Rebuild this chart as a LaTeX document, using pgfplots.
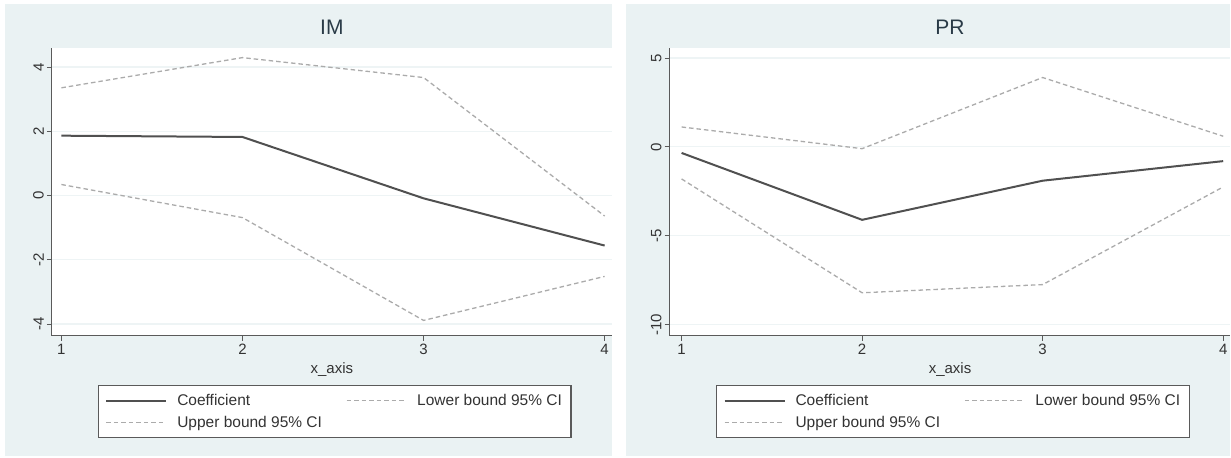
\documentclass[border=0pt]{standalone}
\usepackage{pgfplots}
\pgfplotsset{compat=1.18}
\usepackage{fontspec}
\setmainfont{Liberation Sans}
\definecolor{bgc}{HTML}{EAF2F3}
\definecolor{gridc}{HTML}{EEF4F5}
\definecolor{coefc}{HTML}{505050}
\definecolor{cic}{HTML}{ABABAB}
\definecolor{axc}{HTML}{5A5A5A}
\definecolor{txc}{HTML}{333333}
\definecolor{titc}{HTML}{2A3B47}

\pgfplotsset{
 panel/.style={
  scale only axis, width=560pt, height=288pt, anchor=south west,
  axis x line=bottom, axis y line=left,
  axis line style={-, axc, line width=1pt},
  xtick={1,2,3,4}, tick align=outside, major tick length=5pt,
  tick style={axc, line width=0.8pt},
  ymajorgrids, major grid style={gridc, line width=1.2pt},
  /pgf/number format/assume math mode=true,
  ticklabel style={font=\fontsize{15}{18}\selectfont, text=txc},
  yticklabel style={rotate=90, anchor=south, inner sep=3pt},
  xticklabel style={anchor=north, inner sep=3pt},
  xlabel={x\_axis},
  xlabel style={at={(axis description cs:0.5,-0.118)}, anchor=center, font=\fontsize{15}{18}\selectfont, text=txc},
  title style={at={(axis description cs:0.5,1.052)}, anchor=center, font=\fontsize{21}{25}\selectfont, text=titc},
  axis background/.style={fill=white},
  legend columns=2,
  legend cell align=left,
  legend style={at={(0.505,-0.17)}, anchor=north, draw=axc, line width=1.2pt,
    font=\fontsize{15.5}{18}\selectfont, text=txc, inner xsep=7pt, inner ysep=7pt,
    /tikz/every odd column/.append style={column sep=8pt},
    /tikz/every even column/.append style={column sep=22pt}, row sep=5pt},
  legend image code/.code={\draw[##1] (0pt,0pt) -- (60pt,0pt);},
 },
 coef/.style={coefc, line width=2pt, no markers},
 ci/.style={cic, line width=1.3pt, dash pattern=on 4.5pt off 3pt, no markers},
}

\begin{document}
\begin{tikzpicture}[x=1pt,y=1pt]
\fill[white] (0,0) rectangle (1231,458);
\fill[bgc] (5,2) rectangle (612,454);
\fill[bgc] (626,2) rectangle (1231,454);

\begin{axis}[panel, at={(52pt,122pt)}, title={IM},
  xmin=0.948, xmax=4.039, ymin=-4.37, ymax=4.59, ytick={-4,-2,0,2,4}]
\addplot[coef] coordinates {(1,1.86) (2,1.82) (3,-0.09) (4,-1.56)};
\addlegendentry{Coefficient}
\addplot[ci] coordinates {(1,0.34) (2,-0.69) (3,-3.89) (4,-2.52)};
\addlegendentry{Lower bound 95\% CI}
\addplot[ci] coordinates {(1,3.35) (2,4.29) (3,3.67) (4,-0.64)};
\addlegendentry{Upper bound 95\% CI}
\end{axis}

\begin{axis}[panel, width=561pt, at={(670pt,122pt)}, title={PR},
  xmin=0.934, xmax=4.04, ymin=-10.62, ymax=5.56, ytick={-10,-5,0,5}]
\addplot[coef] coordinates {(1,-0.34) (2,-4.1) (3,-1.9) (4,-0.8)};
\addlegendentry{Coefficient}
\addplot[ci] coordinates {(1,-1.8) (2,-8.2) (3,-7.74) (4,-2.25)};
\addlegendentry{Lower bound 95\% CI}
\addplot[ci] coordinates {(1,1.12) (2,-0.1) (3,3.9) (4,0.6)};
\addlegendentry{Upper bound 95\% CI}
\end{axis}
\end{tikzpicture}
\end{document}
